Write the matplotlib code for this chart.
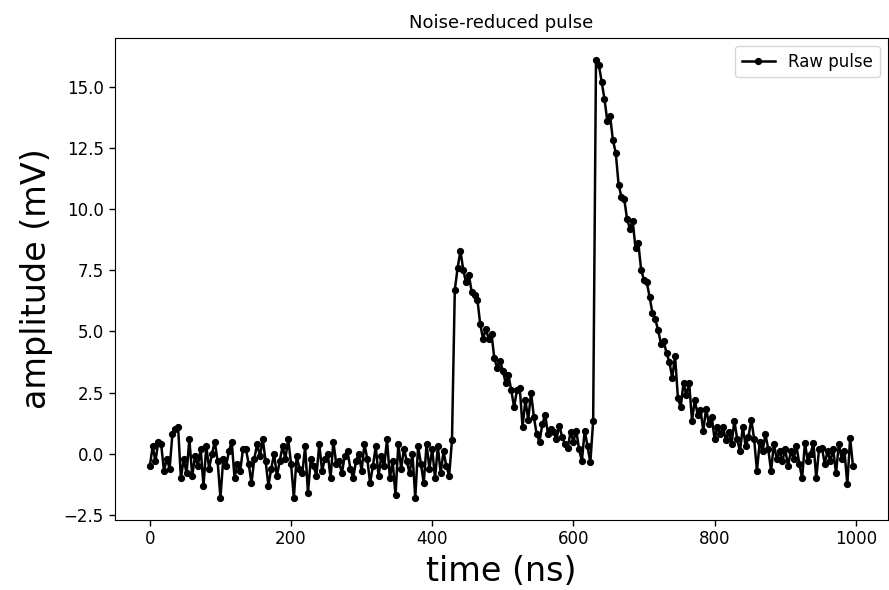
import numpy as np
import matplotlib
matplotlib.use("Agg")
import matplotlib.pyplot as plt

# sampled amplitude (mV), 4 ns step
baseline = [
    -0.5, 0.3, -0.3, 0.5, 0.4, -0.7, -0.2, -0.6, 0.8, 1.0, 1.1, -1.0, -0.2, -0.8, 0.6, -0.9, -0.1, -0.5, 0.2, -1.3,
    0.3, -0.6, 0.0, 0.5, -0.3, -1.8, -0.2, -0.5, 0.1, 0.5, -1.0, -0.4, -0.7, 0.2, 0.2, -0.4, -1.2, -0.2, 0.4, -0.1,
    0.6, -0.3, -1.3, -0.6, 0.0, -0.9, -0.3, 0.3, -0.2, 0.6, -0.4, -1.8, -0.1, -0.6, -0.8, 0.3, -1.6, -0.2, -0.5, -0.9,
    0.4, -0.7, -0.2, 0.0, -1.0, 0.5, -0.4, -0.3, -0.8, -0.1, 0.1, -0.6, -1.0, -0.3, 0.0, -0.7, 0.4, -0.2, -1.2, -0.5,
    0.3, -0.9, -0.1, -0.5, 0.6, -1.0, -0.3, -1.7, 0.4, -0.6, 0.2, -0.3, -0.8, 0.0, -1.8, 0.3, -0.4, -1.2, 0.4, -0.6,
    0.2, -1.0, 0.3, -0.8, 0.1, -0.5, -0.9,
]
first_pulse = [
    0.55, 6.7, 7.6, 8.3, 7.5, 7.0, 7.3, 6.6, 6.5, 6.3, 5.3, 4.7, 5.1, 4.7, 4.9, 3.9, 3.5, 3.8, 3.4, 2.9,
    3.2, 2.6, 1.9, 2.6, 2.7, 1.1, 2.2, 1.4, 2.5, 1.5, 0.8, 0.5, 1.2, 1.6, 0.8, 1.0, 0.9, 0.6, 1.15, 0.7,
    0.4, 0.25, 0.9, 0.5, 0.95, 0.2, -0.3, 0.95, 0.3, -0.35, 1.35,
]
second_pulse = [
    16.1, 15.9, 15.2, 14.5, 13.6, 13.8, 12.8, 12.3, 11.0, 10.5, 10.4, 9.6, 9.2, 9.5, 8.4, 8.6, 7.5, 7.1, 7.0, 6.4,
    5.75, 5.5, 5.05, 4.5, 4.6, 4.1, 3.75, 3.1, 4.0, 2.3, 1.9, 2.9, 2.4, 2.9, 1.35, 2.2, 1.6, 1.8, 0.95, 1.85,
    1.2, 1.5, 0.6, 1.1, 0.8, 1.1, 0.55, 0.9, 0.4, 1.35, 0.6, 0.1, 1.1, 0.3, 0.7, 1.4, 0.6, -0.7, 0.5, 0.1,
    0.8, 0.2, -0.7, 0.4, -0.2, 0.1, -0.3, 0.2, -0.5, 0.1, -0.2, 0.3, -0.4, -1.0, 0.45, -0.3, 0.0, 0.45, -1.0, 0.2,
    0.25, -0.4, 0.1, -0.3, 0.2, -0.8, 0.4, -0.2, 0.1, -1.25, 0.65, -0.5,
]
amplitude = np.array(baseline + first_pulse + second_pulse)
time_ns = np.arange(len(amplitude)) * 4

fig = plt.figure(figsize=(8.89, 5.9), dpi=100)
ax = fig.add_axes([0.129, 0.119, 0.870, 0.817])
ax.plot(time_ns, amplitude, color="black", marker="o", markersize=4.2, linewidth=1.8,
        label="Raw pulse")
ax.set_title("Noise-reduced pulse", fontsize=13, pad=7)
ax.set_xlabel("time (ns)", fontsize=24, labelpad=5)
ax.set_ylabel("amplitude (mV)", fontsize=24, labelpad=8)
ax.tick_params(labelsize=12, length=4.2, width=1.0)
ax.legend(loc="upper right", fontsize=12)

fig.savefig("out.png", dpi=100)
